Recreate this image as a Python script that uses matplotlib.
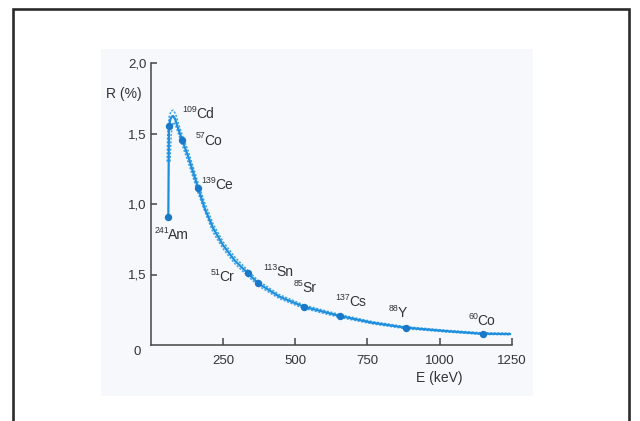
import matplotlib
matplotlib.use('Agg')
import matplotlib.pyplot as plt
from matplotlib.patches import Rectangle

plt.rcParams['font.family'] = ['Liberation Sans', 'DejaVu Sans']

# ================= DATA =================
# solid response curve
curve_e = [60, 62, 63, 67, 72, 77, 84, 95, 108, 130, 163, 186, 215, 249,
           290, 335, 372, 445, 529, 654, 767, 882, 1020, 1149, 1244]
curve_r = [0.905, 1.50, 1.553, 1.60, 1.62, 1.624, 1.60, 1.53, 1.454, 1.33,
           1.115, 0.97, 0.83, 0.71, 0.60, 0.51, 0.437, 0.343, 0.272, 0.206,
           0.158, 0.123, 0.099, 0.080, 0.078]

# dotted envelope, upper and lower
upper_e = [56, 58, 63, 70, 77, 85, 95, 108, 130, 163, 186, 215, 249, 290,
           335, 372, 445, 529, 654, 767, 882, 1020, 1149, 1244]
upper_r = [1.30, 1.50, 1.62, 1.66, 1.665, 1.64, 1.57, 1.49, 1.37, 1.15,
           1.01, 0.86, 0.735, 0.625, 0.53, 0.455, 0.357, 0.284, 0.216,
           0.166, 0.130, 0.105, 0.086, 0.083]
lower_e = [66, 70, 77, 84, 95, 108, 130, 163, 186, 215, 249, 290, 335, 372,
           445, 529, 654, 767, 882, 1020, 1149, 1244]
lower_r = [1.30, 1.50, 1.58, 1.565, 1.50, 1.42, 1.29, 1.08, 0.95, 0.80,
           0.685, 0.578, 0.49, 0.42, 0.329, 0.26, 0.196, 0.150, 0.116,
           0.093, 0.075, 0.073]

# calibration sources: marker position, and label anchor
# (anchor = point between mass number and element symbol)
src_mass = ['241', '109', '57', '139', '51', '113', '85', '137', '88', '60']
src_elem = ['Am', 'Cd', 'Co', 'Ce', 'Cr', 'Sn', 'Sr', 'Cs', 'Y', 'Co']
src_e = [60, 63, 108, 163, 335, 372, 529, 654, 882, 1149]
src_r = [0.905, 1.553, 1.454, 1.115, 0.51, 0.437, 0.272, 0.206, 0.123, 0.080]
lab_e = [59, 158, 185, 222, 238, 434, 524, 686, 855, 1131]
lab_r = [0.78, 1.64, 1.45, 1.135, 0.485, 0.52, 0.406, 0.307, 0.227, 0.172]

x_ticks = [250, 500, 750, 1000, 1250]
y_ticks = [0.5, 1.0, 1.5, 2.0]
y_labels = ['1,5', '1,0', '1,5', '2,0']

LINE = '#1e8fdc'
DOT = '#3ea3ea'
MARK = '#1a78c8'
TXT = '#333333'

# ================= FIGURE =================
W, H = 640, 421
fig = plt.figure(figsize=(6.4, 4.21), dpi=100)

# outer frame and light panel, behind the axes
fig.patches.append(Rectangle((101 / W, (H - 396) / H), (533 - 101) / W,
                             (396 - 49) / H, transform=fig.transFigure,
                             facecolor='#f6f8fb', edgecolor='none',
                             zorder=-10))
fig.patches.append(Rectangle((13 / W, -0.1), (629 - 13) / W, 1.1 - 9 / H,
                             transform=fig.transFigure, fill=False,
                             edgecolor='#2a2a2a', linewidth=1.9, zorder=-9))

ax = fig.add_axes([151 / W, (H - 345) / H, (511.7 - 151) / W, (345 - 63) / H])
ax.patch.set_alpha(0)
ax.set_xlim(0, 1250)
ax.set_ylim(0, 2.0)

ax.plot(upper_e, upper_r, color=DOT, lw=1.1, dashes=(1.4, 1.0), zorder=2)
ax.plot(lower_e, lower_r, color=DOT, lw=1.1, dashes=(1.4, 1.0), zorder=2)
ax.plot(curve_e, curve_r, color=LINE, lw=1.6, zorder=3)
ax.plot(src_e, src_r, 'o', color=MARK, ms=4.3, zorder=4)

for m, el, x, y in zip(src_mass, src_elem, lab_e, lab_r):
    ax.text(x, y, el, fontsize=10, color=TXT, ha='left', va='center')
    ax.annotate(m, xy=(x, y), xytext=(0.6, 3.3), textcoords='offset points',
                fontsize=6.3, color=TXT, ha='right', va='center')

for s in ['top', 'right']:
    ax.spines[s].set_visible(False)
for s in ['left', 'bottom']:
    ax.spines[s].set_color('#444444')
    ax.spines[s].set_linewidth(1.1)

ax.set_xticks(x_ticks)
ax.set_xticklabels([str(t) for t in x_ticks])
ax.set_yticks(y_ticks)
ax.set_yticklabels(y_labels)
ax.tick_params(axis='x', direction='in', length=5, width=1.1, color='#444444',
               pad=7, labelsize=9.5, labelcolor=TXT)
ax.tick_params(axis='y', direction='in', length=4, width=1.1, color='#444444',
               pad=3, labelsize=9.5, labelcolor=TXT)

# shared origin label
ax.annotate('0', xy=(0, 0), xytext=(-7, -5), textcoords='offset points',
            ha='right', va='center', fontsize=9.5, color=TXT)

ax.text(-0.125, 0.89, 'R (%)', transform=ax.transAxes, fontsize=10,
        color=TXT, ha='left', va='center')
ax.text(0.8, -0.117, 'E (keV)', transform=ax.transAxes, fontsize=10,
        color=TXT, ha='center', va='center')

fig.savefig('out.png', dpi=100)
